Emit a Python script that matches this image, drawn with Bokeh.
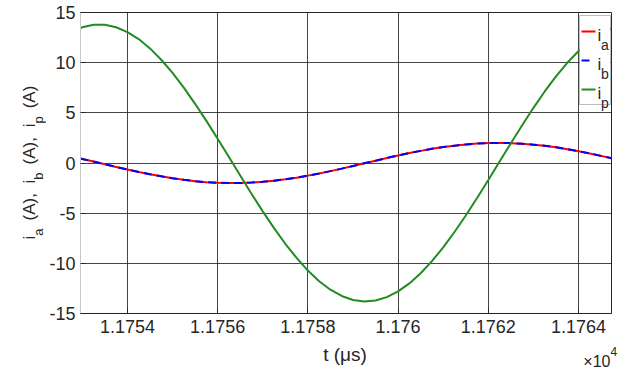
import math
from bokeh.plotting import figure
from bokeh.models import Range1d, FixedTicker, Label, BoxAnnotation
from bokeh.layouts import row, column
from bokeh.embed import file_html
from bokeh.resources import INLINE

# ---- data ----
t_us = [11752.96, 11753.00, 11753.25, 11753.50, 11753.75, 11754.00, 11754.25,
        11754.50, 11754.75, 11755.00, 11755.25, 11755.50, 11755.75, 11756.00,
        11756.25, 11756.50, 11756.75, 11757.00, 11757.25, 11757.50, 11757.75,
        11758.00, 11758.25, 11758.50, 11758.75, 11759.00, 11759.25, 11759.50,
        11759.75, 11760.00, 11760.25, 11760.50, 11760.75, 11761.00, 11761.25,
        11761.50, 11761.75, 11762.00, 11762.25, 11762.50, 11762.75, 11763.00,
        11763.25, 11763.50, 11763.75, 11764.00, 11764.25, 11764.50, 11764.73]
i_a = [0.44, 0.40, 0.14, -0.13, -0.39, -0.65, -0.89,
       -1.12, -1.33, -1.52, -1.68, -1.81, -1.91, -1.97,
       -2.00, -1.99, -1.95, -1.87, -1.76, -1.62, -1.46,
       -1.26, -1.04, -0.81, -0.56, -0.30, -0.03, 0.23,
       0.50, 0.75, 0.99, 1.21, 1.41, 1.59, 1.73,
       1.85, 1.94, 1.99, 2.00, 1.98, 1.92, 1.83,
       1.71, 1.56, 1.38, 1.18, 0.95, 0.71, 0.47]
i_b = [0.44, 0.40, 0.14, -0.13, -0.39, -0.65, -0.89,
       -1.12, -1.33, -1.52, -1.68, -1.81, -1.91, -1.97,
       -2.00, -1.99, -1.95, -1.87, -1.76, -1.62, -1.46,
       -1.26, -1.04, -0.81, -0.56, -0.30, -0.03, 0.23,
       0.50, 0.75, 0.99, 1.21, 1.41, 1.59, 1.73,
       1.85, 1.94, 1.99, 2.00, 1.98, 1.92, 1.83,
       1.71, 1.56, 1.38, 1.18, 0.95, 0.71, 0.47]
i_p = [13.46, 13.52, 13.77, 13.77, 13.53, 13.05, 12.35,
       11.42, 10.29, 8.98, 7.51, 5.90, 4.20, 2.41,
       0.59, -1.25, -3.06, -4.82, -6.49, -8.05, -9.46,
       -10.72, -11.78, -12.63, -13.25, -13.65, -13.80, -13.71,
       -13.37, -12.80, -12.00, -10.99, -9.78, -8.41, -6.88,
       -5.23, -3.49, -1.69, 0.15, 1.97, 3.77, 5.50,
       7.13, 8.64, 9.99, 11.16, 12.14, 12.90, 13.41]
x_ticks = [11754, 11756, 11758, 11760, 11762, 11764]
x_tick_labels = ["1.1754", "1.1756", "1.1758", "1.176", "1.1762", "1.1764"]
y_ticks = [-15, -10, -5, 0, 5, 10, 15]
y_tick_labels = ["-15", "-10", "-5", "0", "5", "10", "15"]
legend_subs = ["a", "b", "p"]
series_colors = ["#ff0000", "#0000ff", "#228b22"]

FONT = "Liberation Sans"
TXT = "#262626"

# page geometry (page pixels)
PAGE_W, PAGE_H = 625, 369
STRIP_W = 46          # left strip for the y label
MAIN_H = 340          # main figure height; bottom strip below it
FL, FR, FT, FB = 78, 611, 12, 313   # frame edges on the page


def no_frame_align(f):
    if "frame_align" in f.properties():
        f.frame_align = False
        return True
    return False


def bare_fig(w, h, x0, x1, y0, y1):
    f = figure(width=w, height=h, output_backend="svg", toolbar_location=None,
               title=None, x_range=Range1d(x0, x1), y_range=Range1d(y0, y1),
               x_axis_location=None, y_axis_location=None,
               min_border=0, min_border_left=0, min_border_right=0,
               min_border_top=0, min_border_bottom=0)
    f.outline_line_color = None
    f.xgrid.visible = False
    f.ygrid.visible = False
    f.background_fill_color = "white"
    f.border_fill_color = "white"
    return f


# ---------------- main plot ----------------
main_w = PAGE_W - STRIP_W
p = figure(width=main_w, height=MAIN_H, output_backend="svg", toolbar_location=None,
           title=None,
           x_range=Range1d(11752.96, 11764.73), y_range=Range1d(-15, 15),
           min_border_left=FL - STRIP_W, min_border_right=PAGE_W - FR,
           min_border_top=FT, min_border_bottom=MAIN_H - FB)
p.background_fill_color = "white"
p.border_fill_color = "white"
p.outline_line_color = TXT
p.outline_line_width = 1

p.xaxis.ticker = FixedTicker(ticks=x_ticks)
p.xaxis.major_label_overrides = {k: v for k, v in zip(x_ticks, x_tick_labels)}
p.yaxis.ticker = FixedTicker(ticks=y_ticks)
p.yaxis.major_label_overrides = {k: v for k, v in zip(y_ticks, y_tick_labels)}
for ax in (p.xaxis, p.yaxis):
    ax.major_tick_in = 5
    ax.major_tick_out = 0
    ax.minor_tick_in = 0
    ax.minor_tick_out = 0
    ax.major_label_text_font = FONT
    ax.major_label_text_font_size = "18px"
    ax.major_label_text_color = TXT
    ax.major_tick_line_color = TXT
    ax.major_label_standoff = 5
p.xaxis.axis_line_color = TXT
p.yaxis.axis_line_color = "#c8c8c8"
p.xaxis.major_label_standoff = 6

p.xgrid.ticker = FixedTicker(ticks=x_ticks)
p.ygrid.ticker = FixedTicker(ticks=y_ticks)
for g in (p.xgrid, p.ygrid):
    g.grid_line_color = "#262626"
    g.grid_line_alpha = 0.85
    g.grid_line_width = 1

p.line(t_us, i_a, line_color=series_colors[0], line_width=2)
p.line(t_us, i_b, line_color=series_colors[1], line_width=2, line_dash="8 5")
p.line(t_us, i_p, line_color=series_colors[2], line_width=2)


def flab(text, x, y, size):
    """label inside the main frame, given in page pixels"""
    p.add_layout(Label(x=x - FL, y=FB - y, x_units="screen", y_units="screen",
                       text=text, text_font=FONT, text_font_size=f"{size}px",
                       text_color=TXT, text_align="left",
                       text_baseline="alphabetic"))


def sbox(left, right, top, bottom, **kw):
    p.add_layout(BoxAnnotation(left=left - FL, right=right - FL,
                               top=FB - top, bottom=FB - bottom,
                               left_units="screen", right_units="screen",
                               top_units="screen", bottom_units="screen", **kw))


# legend
sbox(577, 608, 15, 104, fill_color="white", fill_alpha=1.0,
     line_color=TXT, line_width=1)
rows = [31, 60, 89]
for sub, col, ly in zip(legend_subs, series_colors, rows):
    right = 587 if col == "#0000ff" else 593
    sbox(579, right, ly - 1, ly + 1, fill_color=col, fill_alpha=1.0, line_alpha=0)
    flab("i", 595, ly + 4, 17)
    flab(sub, 598.5, ly + 13, 14)

# ---------------- left strip: y label ----------------
fy = bare_fig(STRIP_W, PAGE_H, 0, STRIP_W, 0, PAGE_H)
no_frame_align(fy)

W = {'i': 222, 'a': 556, 'b': 556, 'p': 556, '(': 333, ')': 333, 'A': 667,
     ',': 278, ' ': 278}


def width(s, size):
    return sum(W[c] for c in s) * size / 1000.0


MAIN, SUB = 17, 13
pos = 239.0   # page y where the text starts (it runs upwards)
pieces = [("i", False, 0), ("a", True, 8), ("(A),", False, 9.7),
          ("i", False, 0), ("b", True, 8), ("(A),", False, 9.7),
          ("i", False, 0), ("p", True, 8), ("(A)", False, 0)]
for txt, is_sub, gap in pieces:
    size = SUB if is_sub else MAIN
    fy.add_layout(Label(x=38 if is_sub else 29, y=PAGE_H - pos, text=txt,
                        text_font=FONT, text_font_size=f"{size}px",
                        text_color=TXT, text_align="left",
                        text_baseline="alphabetic", angle=math.pi / 2))
    pos -= width(txt, size) + gap

# ---------------- bottom strip: x label and exponent ----------------
BS_H = PAGE_H - MAIN_H
fx = bare_fig(main_w, BS_H, STRIP_W, PAGE_W, 0, BS_H)
if not no_frame_align(fx):
    fx.x_range = Range1d(FL, FR)


def blab(text, x, y, size, align):
    fx.add_layout(Label(x=x, y=PAGE_H - y, text=text, text_font=FONT,
                        text_font_size=f"{size}px", text_color=TXT,
                        text_align=align, text_baseline="alphabetic"))


blab("t (\u03bcs)", 344.5, 354, 19, "center")
blab("\u00d710", 610, 361, 16, "right")
blab("4", 610, 351, 12, "left")

layout = row(fy, column(p, fx, spacing=0), spacing=0)
open("out.html", "w").write(file_html(layout, INLINE))
